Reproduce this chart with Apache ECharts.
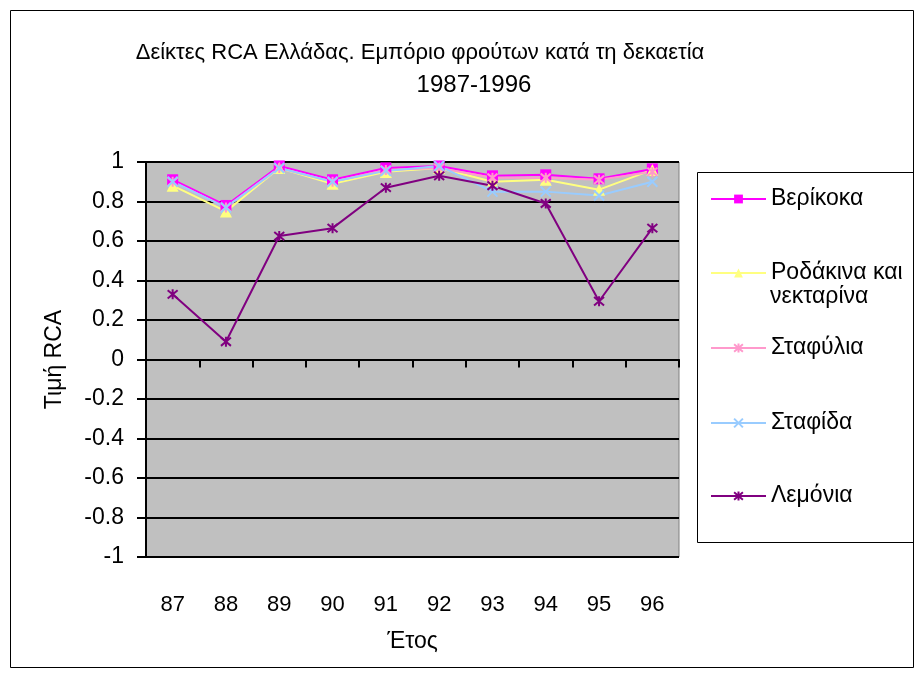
<!DOCTYPE html>
<html>
<head>
<meta charset="utf-8">
<script src="https://cdn.jsdelivr.net/npm/echarts@6/dist/echarts.min.js"></script>
<style>
  html, body { margin: 0; padding: 0; background: #fff; }
  #chart { width: 924px; height: 679px; }
</style>
</head>
<body>
<div id="chart"></div>
<script>
var years = ['87', '88', '89', '90', '91', '92', '93', '94', '95', '96'];
var verikoka = [0.91, 0.78, 0.98, 0.91, 0.97, 0.98, 0.93, 0.935, 0.915, 0.965];
var rodakina = [0.88, 0.75, 0.97, 0.89, 0.95, 0.97, 0.90, 0.91, 0.86, 0.96];
var stafylia = [0.90, 0.77, 0.97, 0.90, 0.96, 0.97, 0.92, 0.92, 0.91, 0.95];
var stafida = [0.90, 0.77, 0.97, 0.90, 0.955, 0.98, 0.85, 0.85, 0.83, 0.90];
var lemonia = [0.33, 0.09, 0.625, 0.665, 0.87, 0.93, 0.88, 0.79, 0.295, 0.665];

var FONT = '"Liberation Sans", Arial, sans-serif';
var XMARK = 'path://M0,0L10,10M10,0L0,10';
var STAR = 'path://M0,0L10,10M10,0L0,10M5,-1L5,11';

function lineSeries(name, data, color, symbol, size, stroked) {
  return {
    name: name,
    type: 'line',
    data: data,
    xAxisIndex: 0,
    symbol: symbol,
    symbolSize: size,
    showSymbol: true,
    lineStyle: { color: color, width: 2 },
    itemStyle: stroked
      ? { color: 'rgba(0,0,0,0)', borderColor: color, borderWidth: 2 }
      : { color: color, borderColor: color, borderWidth: 0 },
    emphasis: { disabled: true },
    animation: false
  };
}

var series = [
  lineSeries('Βερίκοκα', verikoka, '#ff00ff', 'rect', 11, false),
  lineSeries('Ροδάκινα και νεκταρίνα', rodakina, '#ffff80', 'triangle', 12, false),
  lineSeries('Σταφύλια', stafylia, '#ff99cc', STAR, 10, true),
  lineSeries('Σταφίδα', stafida, '#99ccff', XMARK, 10, true),
  lineSeries('Λεμόνια', lemonia, '#800080', STAR, 10, true)
];

// vertical centre of each legend entry (first line)
var legendCentres = [196, 270, 345, 420, 493];
var legends = series.map(function (s, i) {
  return {
    data: [s.name],
    left: 705,
    top: legendCentres[i] - 16,
    itemWidth: 55,
    itemHeight: 11,
    itemGap: 0,
    selectedMode: false,
    formatter: i === 1 ? 'Ροδάκινα και' : '{name}',
    textStyle: { fontFamily: FONT, fontSize: 23, color: '#000', lineHeight: 28 }
  };
});

var chart = echarts.init(document.getElementById('chart'));
chart.setOption({
  backgroundColor: '#fff',
  animation: false,
  textStyle: { fontFamily: FONT },
  graphic: [
    { type: 'rect', shape: { x: 10.5, y: 10.5, width: 903, height: 657 }, style: { fill: 'none', stroke: '#000', lineWidth: 1 } },
    { type: 'rect', shape: { x: 697.5, y: 172.5, width: 216, height: 370 }, style: { fill: 'none', stroke: '#000', lineWidth: 1 } },
    { type: 'text', x: 420, y: 53, style: { text: 'Δείκτες RCA Ελλάδας. Εμπόριο φρούτων κατά τη δεκαετία', font: '22px ' + FONT, fill: '#000', align: 'center', verticalAlign: 'middle' } },
    { type: 'text', x: 474, y: 85, style: { text: '1987-1996', font: '24px ' + FONT, fill: '#000', align: 'center', verticalAlign: 'middle' } },
    { type: 'text', x: 770, y: 297, style: { text: 'νεκταρίνα', font: '23px ' + FONT, fill: '#000', align: 'left', verticalAlign: 'middle' } }
  ],
  legend: legends,
  grid: {
    left: 146, top: 162, width: 533, height: 395,
    show: true, backgroundColor: '#c0c0c0', borderColor: '#808080', borderWidth: 1
  },
  xAxis: [
    {
      type: 'category',
      data: years,
      position: 'bottom',
      boundaryGap: true,
      axisLine: { show: false, onZero: false },
      axisTick: { show: false },
      axisLabel: { fontSize: 22, color: '#000', margin: 37, fontFamily: FONT },
      name: 'Έτος',
      nameLocation: 'middle',
      nameGap: 73,
      nameTextStyle: { fontSize: 23, color: '#000', fontFamily: FONT },
      splitLine: { show: false }
    },
    {
      type: 'category',
      data: years,
      position: 'bottom',
      boundaryGap: true,
      axisLine: { show: true, onZero: true, onZeroAxisIndex: 0, lineStyle: { color: '#000', width: 2 } },
      axisTick: { show: true, interval: 0, length: 8, lineStyle: { color: '#000', width: 2 } },
      axisLabel: { show: false },
      splitLine: { show: false }
    }
  ],
  yAxis: {
    type: 'value',
    min: -1,
    max: 1,
    interval: 0.2,
    axisLine: { show: true, lineStyle: { color: '#000', width: 2 } },
    axisTick: { show: true, length: 9, lineStyle: { color: '#000', width: 2 } },
    axisLabel: { fontSize: 23, color: '#000', margin: 22, fontFamily: FONT },
    splitLine: { show: true, lineStyle: { color: '#000', width: 2 } },
    name: 'Τιμή RCA',
    nameLocation: 'middle',
    nameRotate: 90,
    nameGap: 80,
    nameTextStyle: { fontSize: 23, color: '#000', fontFamily: FONT }
  },
  series: series
});
</script>
</body>
</html>
